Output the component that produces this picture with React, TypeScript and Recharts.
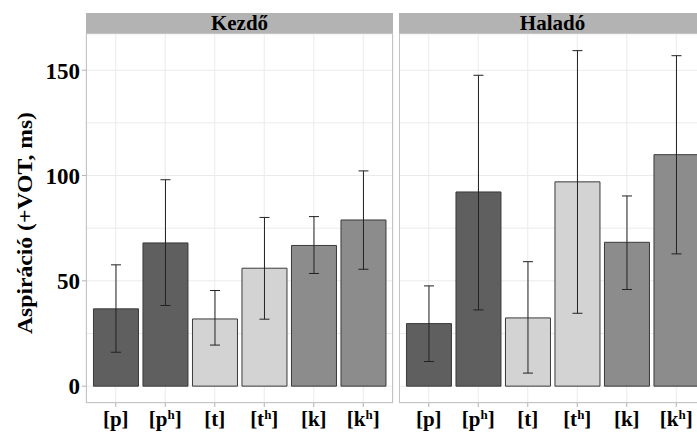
import { BarChart, Bar, XAxis, YAxis, CartesianGrid, ErrorBar, Cell } from "recharts";

const categories = ["[p]", "[pʰ]", "[t]", "[tʰ]", "[k]", "[kʰ]"];
const panelTitles = ["Kezdő", "Haladó"];

// mean VOT and the error bar ends, per category
const kezdoMean = [36.7, 68.0, 31.9, 56.0, 66.8, 78.9];
const kezdoLow = [16.1, 38.3, 19.5, 31.8, 53.5, 55.5];
const kezdoHigh = [57.6, 98.0, 45.4, 80.1, 80.5, 102.2];

const haladoMean = [29.7, 92.2, 32.4, 97.0, 68.3, 109.9];
const haladoLow = [11.7, 36.2, 6.2, 34.6, 45.9, 62.8];
const haladoHigh = [47.6, 147.6, 59.1, 159.3, 90.3, 156.9];

const barFills = ["#5f5f5f", "#5f5f5f", "#d3d3d3", "#d3d3d3", "#8c8c8c", "#8c8c8c"];
// major ticks get a label, minor ones only a grid line
const yMajorTicks = [0, 50, 100, 150];
const yAllTicks = [0, 25, 50, 75, 100, 125, 150];
const yDomain: [number, number] = [-8, 167.2];

const FONT = "Liberation Serif, Times New Roman, serif";

function buildRows(mean: number[], low: number[], high: number[]) {
  return categories.map((c, i) => ({
    cat: c,
    value: mean[i],
    err: [mean[i] - low[i], high[i] - mean[i]],
  }));
}

const kezdoRows = buildRows(kezdoMean, kezdoLow, kezdoHigh);
const haladoRows = buildRows(haladoMean, haladoLow, haladoHigh);

function XTick(props: any) {
  const { x, y, payload } = props;
  const label: string = payload.value;
  const parts = label.split("ʰ");
  return (
    <text x={x} y={y + 17} textAnchor="middle" style={{ fontFamily: FONT }} fontWeight="bold" fontSize={21} fill="#000">
      {parts.length > 1 ? (
        <>
          {parts[0]}
          <tspan fontSize={13} dy={-7}>h</tspan>
          <tspan dy={7}>{parts[1]}</tspan>
        </>
      ) : (
        label
      )}
    </text>
  );
}

function YTick(props: any) {
  const { x, y, payload } = props;
  if (!yMajorTicks.includes(payload.value)) return <g />;
  return (
    <g>
      <line x1={x + 2} x2={x + 6} y1={y} y2={y} stroke="#b3b3b3" />
      <text
        x={x}
        y={y}
        dy="0.36em"
        textAnchor="end"
        style={{ fontFamily: FONT }}
        fontWeight="bold"
        fontSize={23}
        fill="#000"
      >
        {payload.value}
      </text>
    </g>
  );
}

function YTitle() {
  return (
    <text
      x={32}
      y={223}
      transform="rotate(-90, 32, 223)"
      textAnchor="middle"
      textLength={222}
      lengthAdjust="spacingAndGlyphs"
      style={{ fontFamily: FONT }}
      fontWeight="bold"
      fontSize={20}
      fill="#000"
    >
      Aspiráció (+VOT, ms)
    </text>
  );
}

function Panel({ rows, showY }: { rows: any[]; showY: boolean }) {
  return (
    <BarChart
      width={showY ? 394 : 308}
      height={433}
      data={rows}
      margin={{ top: 34, right: 1, bottom: 0, left: 0 }}
      barCategoryGap="5%"
    >
      <CartesianGrid stroke="#ebebeb" strokeWidth={1} />
      <XAxis
        dataKey="cat"
        height={30}
        axisLine={false}
        tickSize={4}
        tickMargin={2}
        tickLine={{ stroke: "#b3b3b3" }}
        padding={{ left: 5, right: 5 }}
        tick={<XTick />}
        interval={0}
      />
      <YAxis
        type="number"
        domain={yDomain}
        allowDataOverflow
        ticks={yAllTicks}
        interval={0}
        width={showY ? 86 : 0}
        hide={!showY}
        axisLine={false}
        tickSize={4}
        tickMargin={2}
        tickLine={false}
        tick={<YTick />}
        label={showY ? <YTitle /> : undefined}
      />
      <Bar dataKey="value" stroke="#3a3a3a" strokeWidth={1} isAnimationActive={false}>
        {rows.map((r, i) => (
          <Cell key={r.cat} fill={barFills[i]} />
        ))}
        <ErrorBar dataKey="err" width={5} stroke="#222" strokeWidth={1} isAnimationActive={false} />
      </Bar>
    </BarChart>
  );
}

function Strip({ left, title }: { left: number; title: string }) {
  return (
    <>
      <div
        style={{
          position: "absolute",
          left,
          top: 13,
          width: 307,
          height: 21,
          background: "#b3b3b3",
          color: "#000",
          fontFamily: FONT,
          fontWeight: "bold",
          fontSize: 21,
          lineHeight: "21px",
          textAlign: "center",
        }}
      >
        {title}
      </div>
      <div
        style={{
          position: "absolute",
          left,
          top: 33,
          width: 307,
          height: 370,
          border: "1px solid #c4c4c4",
          boxSizing: "border-box",
          pointerEvents: "none",
        }}
      />
    </>
  );
}

export default function App() {
  return (
    <div
      style={{
        position: "fixed",
        left: 0,
        top: 0,
        width: 697,
        height: 433,
        overflow: "hidden",
        background: "#fff",
      }}
    >
      <div style={{ position: "absolute", left: 0, top: 0 }}>
        <Panel rows={kezdoRows} showY={true} />
      </div>
      <div style={{ position: "absolute", left: 399, top: 0 }}>
        <Panel rows={haladoRows} showY={false} />
      </div>
      <Strip left={86} title={panelTitles[0]} />
      <Strip left={399} title={panelTitles[1]} />
    </div>
  );
}
